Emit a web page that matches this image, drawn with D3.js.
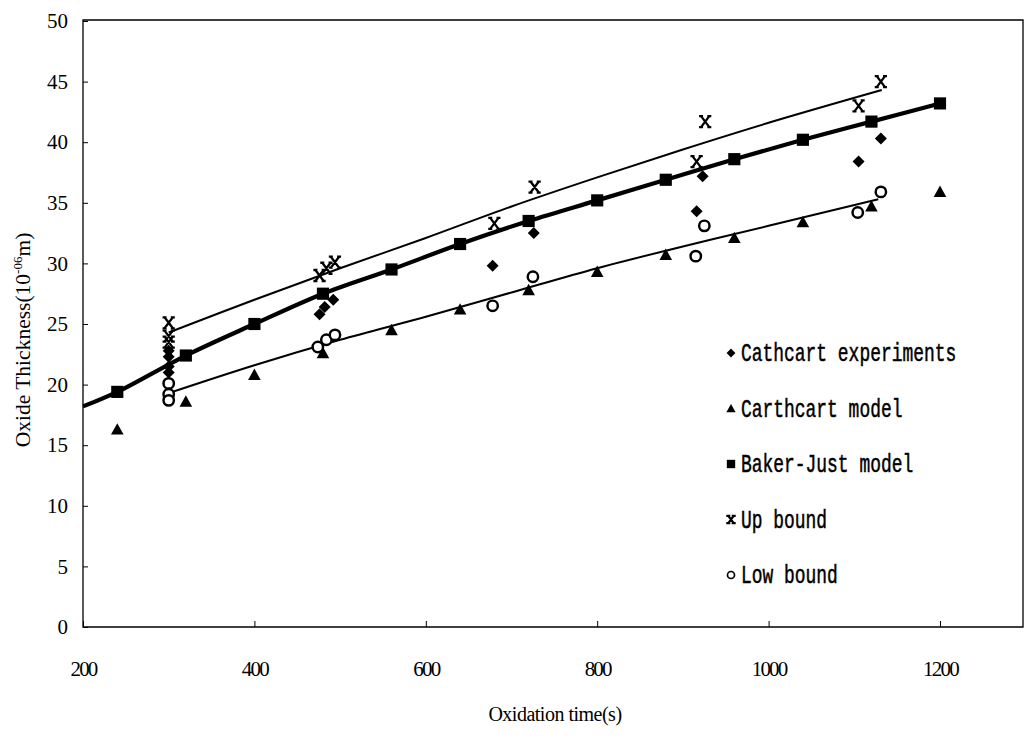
<!DOCTYPE html>
<html>
<head>
<meta charset="utf-8">
<script src="https://cdn.jsdelivr.net/npm/d3@7"></script>
<style>
  html, body { margin: 0; padding: 0; background: #fff; }
  svg { display: block; }
  .tick text { font-family: "Liberation Serif", "Times New Roman", serif; font-size: 21px; fill: #000; }
  .tick line { stroke: #000; stroke-width: 1; }
</style>
</head>
<body>
<svg id="chart" width="1024" height="739"></svg>
<script>
// Oxidation times (s) of the model series
const modelTimes = [240, 320, 400, 480, 560, 640, 720, 800, 880, 960, 1040, 1120, 1200];
// Baker-Just model points and Cathcart model points (oxide thickness, 10^-6 m)
const bakerJust = [19.4, 22.4, 25.0, 27.5, 29.5, 31.6, 33.5, 35.2, 36.9, 38.6, 40.2, 41.7, 43.2];
const carthcartModel = [16.3, 18.6, 20.8, 22.6, 24.5, 26.2, 27.8, 29.3, 30.7, 32.1, 33.4, 34.7, 35.9];

// Baker-Just fitted curve (starts at the left edge of the axis)
const bakerJustLineTimes = [200, 240, 320, 400, 480, 560, 640, 720, 800, 880, 960, 1040, 1120, 1200];
const bakerJustLineValues = [18.2, 19.4, 22.4, 25.0, 27.5, 29.5, 31.6, 33.5, 35.2, 36.9, 38.6, 40.2, 41.7, 43.2];

// Cathcart experiments
const expTimes = [300, 300, 300, 300, 476, 482, 492, 678, 726, 916, 923, 1105, 1131];
const expValues = [22.8, 22.3, 21.5, 21.0, 25.8, 26.4, 27.0, 29.8, 32.5, 34.3, 37.2, 38.4, 40.3];

// Upper bound points and curve
const upTimes = [300, 300, 300, 476, 484, 494, 680, 727, 916, 926, 1105, 1131];
const upValues = [25.1, 24.0, 23.5, 29.0, 29.6, 30.1, 33.3, 36.3, 38.4, 41.7, 43.0, 45.0];
const upLineTimes = [300, 400, 500, 600, 700, 800, 900, 1000, 1132];
const upLineValues = [24.3, 27.0, 29.6, 32.1, 34.7, 37.1, 39.4, 41.6, 44.3];

// Lower bound points and curve
const lowTimes = [300, 300, 300, 474, 484, 494, 678, 725, 915, 925, 1104, 1131];
const lowValues = [20.1, 19.2, 18.7, 23.1, 23.7, 24.1, 26.5, 28.9, 30.6, 33.1, 34.2, 35.9];
const lowLineTimes = [300, 400, 500, 600, 700, 800, 900, 1000, 1128];
const lowLineValues = [19.3, 21.6, 23.7, 25.6, 27.6, 29.6, 31.4, 33.1, 35.3];

// Axis ticks
const xTicks = [200, 400, 600, 800, 1000, 1200];
const yTicks = [0, 5, 10, 15, 20, 25, 30, 35, 40, 45, 50];

// Legend entries
const legendLabels = ["Cathcart experiments", "Carthcart model", "Baker-Just model", "Up bound", "Low bound"];
const legendSymbols = ["diamond", "triangle", "square", "cross", "circle"];

const svg = d3.select("#chart");

const plotLeft = 83, plotRight = 1023, plotTop = 21, plotBottom = 627;
const x = d3.scaleLinear().domain([200, 1300]).range([plotLeft, plotLeft + 1100 * 0.857]);
const y = d3.scaleLinear().domain([0, 50]).range([plotBottom, plotTop]);

// Plot frame
svg.append("path")
  .attr("d", `M${plotLeft},${plotTop - 1}H${plotRight}V${plotBottom}H${plotLeft}Z`)
  .attr("fill", "none").attr("stroke", "#000").attr("stroke-width", 1.3);

// Axes with inward ticks
const yAxis = svg.append("g").attr("transform", `translate(${plotLeft},0)`)
  .call(d3.axisLeft(y).tickValues(yTicks).tickSize(-5).tickPadding(15));
yAxis.select(".domain").remove();

const xAxis = svg.append("g").attr("transform", `translate(0,${plotBottom})`)
  .call(d3.axisBottom(x).tickValues(xTicks).tickFormat(d3.format("d")).tickSize(-6).tickPadding(34));
xAxis.select(".domain").remove();
xAxis.selectAll(".tick text").attr("letter-spacing", "-1.8px");

// Axis titles
svg.append("text")
  .attr("x", 555).attr("y", 721)
  .attr("text-anchor", "middle")
  .attr("font-family", "Liberation Serif, serif").attr("font-size", 20)
  .attr("letter-spacing", "-0.5px")
  .text("Oxidation time(s)");

const yTitle = svg.append("text")
  .attr("transform", "translate(30,340) rotate(-90)")
  .attr("text-anchor", "middle")
  .attr("font-family", "Liberation Serif, serif").attr("font-size", 21.5);
yTitle.append("tspan").text("Oxide Thickness(10");
yTitle.append("tspan").attr("font-size", 13).attr("dy", -8).text("-06");
yTitle.append("tspan").attr("dy", 8).text("m)");

// Curves
const line = d3.line().x(d => x(d[0])).y(d => y(d[1])).curve(d3.curveCatmullRom);

svg.append("path")
  .datum(d3.zip(bakerJustLineTimes, bakerJustLineValues))
  .attr("d", line).attr("fill", "none").attr("stroke", "#000").attr("stroke-width", 4.2);
svg.append("path")
  .datum(d3.zip(upLineTimes, upLineValues))
  .attr("d", line).attr("fill", "none").attr("stroke", "#000").attr("stroke-width", 2);
svg.append("path")
  .datum(d3.zip(lowLineTimes, lowLineValues))
  .attr("d", line).attr("fill", "none").attr("stroke", "#000").attr("stroke-width", 2);

// Marker shapes
function marker(g, kind, s) {
  if (kind === "diamond") {
    g.append("path").attr("d", `M0,${-s}L${s},0L0,${s}L${-s},0Z`).attr("fill", "#000");
  } else if (kind === "triangle") {
    g.append("path").attr("d", `M0,${-s * 1.05}L${s * 1.05},${s * 0.85}L${-s * 1.05},${s * 0.85}Z`).attr("fill", "#000");
  } else if (kind === "square") {
    g.append("rect").attr("x", -s * 0.95).attr("y", -s * 0.95).attr("width", s * 1.9).attr("height", s * 1.9).attr("fill", "#000");
  } else if (kind === "circle") {
    g.append("circle").attr("r", s * 0.8).attr("fill", "#fff").attr("stroke", "#000").attr("stroke-width", s * 0.38);
  } else if (kind === "cross") {
    const a = s * 0.75, b = s;
    g.append("path")
      .attr("d", `M${-a},${-b}L${a},${b}M${a},${-b}L${-a},${b}M${-a - 2},${-b}H${-a + 2}M${a - 2},${-b}H${a + 2}M${-a - 2},${b}H${-a + 2}M${a - 2},${b}H${a + 2}`)
      .attr("fill", "none").attr("stroke", "#000").attr("stroke-width", 2.3);
  }
}

function plotPoints(times, values, kind, s) {
  const g = svg.append("g");
  d3.zip(times, values).forEach(d => {
    marker(g.append("g").attr("transform", `translate(${x(d[0])},${y(d[1])})`), kind, s);
  });
}

plotPoints(modelTimes, carthcartModel, "triangle", 6);
plotPoints(modelTimes, bakerJust, "square", 6.4);
plotPoints(lowTimes, lowValues, "circle", 6.5);
plotPoints(expTimes, expValues, "diamond", 6);
plotPoints(upTimes, upValues, "cross", 5.5);

// Legend: narrow monospaced labels
const legend = svg.append("g");
legendLabels.forEach((label, i) => {
  const ly = 353 + i * 55.5;
  const mg = legend.append("g").attr("transform", `translate(731,${ly})`);
  marker(mg, legendSymbols[i], legendSymbols[i] === "cross" ? 3.6 : 4.4);
  legend.append("g")
    .attr("transform", `translate(741,${ly + 8}) scale(0.69,1)`)
    .append("text")
    .attr("font-family", "Liberation Mono, DejaVu Sans Mono, monospace")
    .attr("font-size", 26)
    .attr("stroke", "#000").attr("stroke-width", 0.5)
    .text(label);
});
</script>
</body>
</html>
